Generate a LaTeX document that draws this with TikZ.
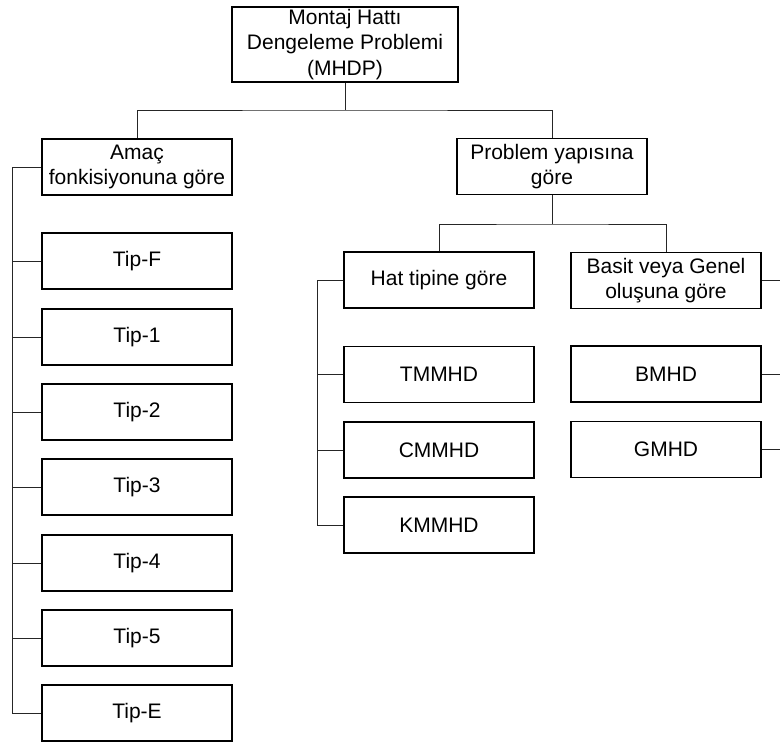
\documentclass[tikz,border=0pt]{standalone}
\usepackage{fontspec}
\setmainfont{Liberation Sans}
\begin{document}
\begin{tikzpicture}[x=1pt,y=-1pt,
  box/.style={draw=black,line width=1.5pt,rectangle,inner sep=0pt,
    minimum width=190pt,minimum height=56pt,align=center,
    font=\fontsize{21}{25.5}\selectfont},
  link/.style={draw=black!85,line width=1pt}]
\useasboundingbox[fill=white] (0,0) rectangle (780,742);

% root
\node[box,minimum width=226pt,minimum height=75pt] (root) at (345,44.5)
  {Montaj Hattı\\Dengeleme Problemi\\(MHDP)};

% first level
\node[box] (amac) at (137,167) {Amaç\\fonkisiyonuna göre};
\node[box] (prob) at (552,166.5) {Problem yapısına\\göre};

% objective-function types
\node[box] (tipF) at (137,261) {Tip-F};
\node[box] (tip1) at (137,337) {Tip-1};
\node[box] (tip2) at (137,412) {Tip-2};
\node[box] (tip3) at (137,487) {Tip-3};
\node[box] (tip4) at (137,563) {Tip-4};
\node[box] (tip5) at (137,638) {Tip-5};
\node[box] (tipE) at (137,713) {Tip-E};

% problem structure
\node[box] (hat) at (439,280) {Hat tipine göre};
\node[box] (basit) at (666,280.5) {Basit veya Genel\\oluşuna göre};
\node[box] (tmm) at (439,374.5) {TMMHD};
\node[box] (cmm) at (439,450) {CMMHD};
\node[box] (kmm) at (439,525) {KMMHD};
\node[box] (bmh) at (666,374) {BMHD};
\node[box] (gmh) at (666,449.5) {GMHD};

% junctions and bus lines
\coordinate (j1) at (345,110);
\coordinate (j2) at (552,224);
\coordinate (lb) at (12,0);
\coordinate (hb) at (317,0);
\coordinate (rb) at (782,0);

\draw[link] (root.south) -- (j1);
\draw[link] (amac.north) |- (j1) -| (prob.north);
\draw[link] (prob.south) -- (j2);
\draw[link] (hat.north) |- (j2) -| (basit.north);

\draw[link] (amac.west) -- (amac.west -| lb) -- (tipE.west -| lb) -- (tipE.west);
\foreach \n in {tipF,tip1,tip2,tip3,tip4,tip5}
  \draw[link] (\n.west) -- (\n.west -| lb);

\draw[link] (hat.west) -- (hat.west -| hb) -- (kmm.west -| hb) -- (kmm.west);
\foreach \n in {tmm,cmm}
  \draw[link] (\n.west) -- (\n.west -| hb);

\foreach \n in {basit,bmh,gmh}
  \draw[link] (\n.east) -- (\n.east -| rb);
\end{tikzpicture}
\end{document}
